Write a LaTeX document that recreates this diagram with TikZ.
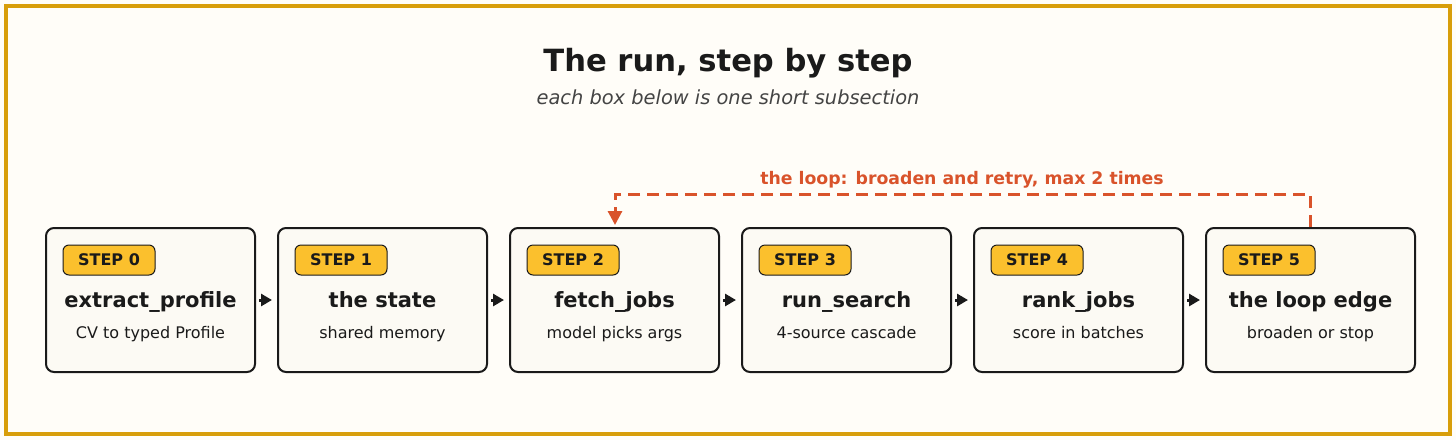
\documentclass[tikz,border=0pt]{standalone}
\usepackage{fontspec}
\setmainfont{DejaVu Sans}
\usetikzlibrary{arrows.meta}
\definecolor{frame}{HTML}{D89E0A}
\definecolor{bg}{HTML}{FFFDF8}
\definecolor{boxfill}{HTML}{FCFAF4}
\definecolor{badge}{HTML}{FBC02D}
\definecolor{ink}{HTML}{1A1A1A}
\definecolor{sub}{HTML}{444444}
\definecolor{loopc}{HTML}{D9532B}
\tikzset{
  stepbox/.style={draw=ink, line width=1pt, fill=boxfill, rounded corners=4pt, minimum width=104.5pt, minimum height=72pt, inner sep=0pt},
  badgebox/.style={draw=ink, line width=0.5pt, fill=badge, rounded corners=3pt, minimum width=46pt, minimum height=15pt, inner sep=0pt, font=\bfseries\fontsize{8}{9}\selectfont, text=ink},
  ttl/.style={font=\bfseries\fontsize{10.5}{12}\selectfont, text=ink, anchor=base},
  subt/.style={font=\fontsize{8}{9}\selectfont, text=ink, anchor=base},
  flow/.style={-{Triangle[length=5.5pt,width=6pt]}, line width=1.5pt, draw=ink},
}
\begin{document}
\begin{tikzpicture}[x=0.5pt,y=-0.5pt]
\fill[bg] (0,0) rectangle (1456,440);
\useasboundingbox (0,0) rectangle (1456,440);
\draw[frame, line width=2pt] (6,6) rectangle (1450,434);
\node[font=\bfseries\fontsize{15.3}{18}\selectfont, text=ink, anchor=base] (title) at (728,71) {The run, step by step};
\node[font=\itshape\fontsize{9.7}{11}\selectfont, text=sub, anchor=base] (subtitle) at (728,104) {each box below is one short subsection};
\foreach \i/\t/\s in {0/extract\_profile/CV to typed Profile, 1/the state/shared memory, 2/fetch\_jobs/model picks args, 3/run\_search/4-source cascade, 4/rank\_jobs/score in batches, 5/the loop edge/broaden or stop}{
  \pgfmathsetmacro{\cx}{150.5+232*\i}
  \node[stepbox] (b\i) at (\cx,300) {};
  \node[badgebox] (g\i) at (\cx-41.5,260) {STEP \i};
  \node[ttl] (t\i) at (\cx,307) {\t};
  \node[subt] (s\i) at (\cx,338) {\s};
}
\foreach \a/\b in {0/1,1/2,2/3,3/4,4/5}{
  \draw[flow] ([xshift=1.5pt]b\a.east) -- ([xshift=-2.5pt]b\b.west);
}
\coordinate (lu) at (1310,194);
\coordinate (lv) at (615,194);
\draw[loopc, line width=1.5pt, dash pattern=on 6pt off 3.5pt, -{Triangle[length=7pt,width=7pt]}] (b5.north -| lu) -- (lu) -- (lv) -- ([yshift=1pt]lv |- b2.north);
\node[font=\bfseries\fontsize{8.65}{10}\selectfont, text=loopc, anchor=base] (looplbl) at (962,184) {the loop: broaden and retry, max 2 times};
\end{tikzpicture}
\end{document}
